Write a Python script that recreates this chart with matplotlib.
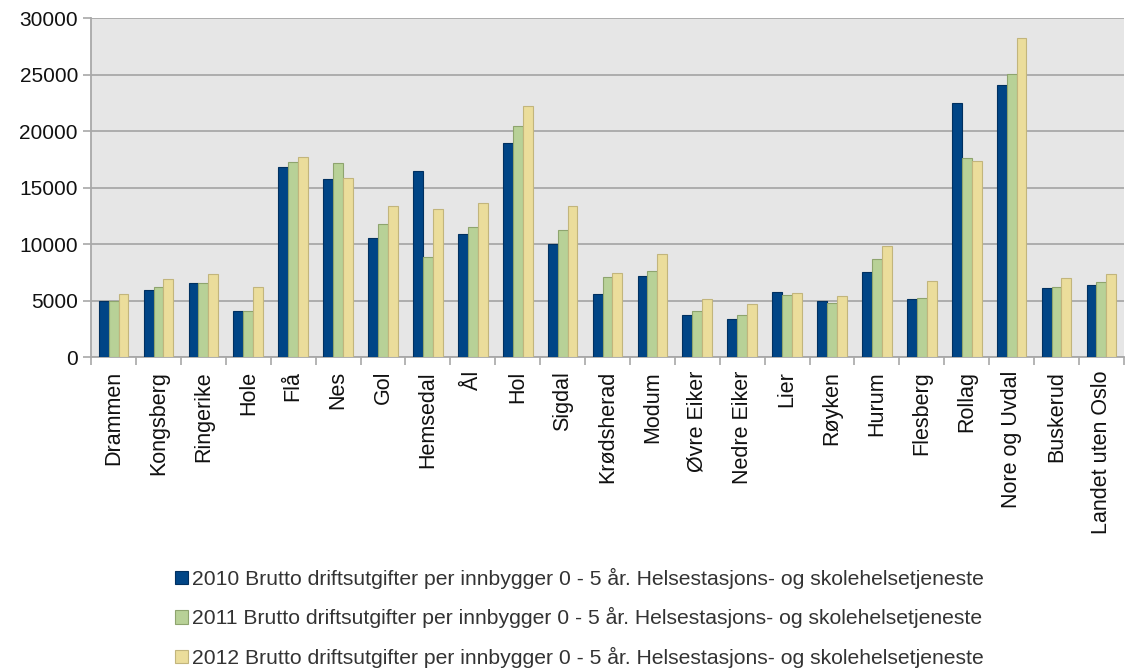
import numpy as np
import matplotlib.pyplot as plt

plt.rcParams['font.family'] = ['Liberation Sans', 'DejaVu Sans']

kommuner = ['Drammen', 'Kongsberg', 'Ringerike', 'Hole', 'Flå', 'Nes', 'Gol',
            'Hemsedal', 'Ål', 'Hol', 'Sigdal', 'Krødsherad', 'Modum',
            'Øvre Eiker', 'Nedre Eiker', 'Lier', 'Røyken', 'Hurum', 'Flesberg',
            'Rollag', 'Nore og Uvdal', 'Buskerud', 'Landet uten Oslo']

v2010 = [4950, 5970, 6550, 4110, 16820, 15760, 10530, 16470, 10880, 18910,
         9970, 5610, 7150, 3760, 3410, 5740, 4940, 7500, 5140, 22530, 24050,
         6090, 6350]
v2011 = [4990, 6200, 6550, 4110, 17260, 17140, 11760, 8880, 11520, 20410,
         11210, 7110, 7590, 4090, 3730, 5500, 4790, 8650, 5260, 17610, 25090,
         6230, 6670]
v2012 = [5590, 6880, 7350, 6200, 17740, 15880, 13410, 13090, 13640, 22260,
         13410, 7440, 9090, 5120, 4680, 5700, 5380, 9790, 6760, 17380, 28200,
         7020, 7380]

serie = '{} Brutto driftsutgifter per innbygger 0 - 5 år. Helsestasjons- og skolehelsetjeneste'
years = ['2010', '2011', '2012']
colors = ['#004586', '#b8d197', '#ebdd9b']
edges = ['#003060', '#8ea46e', '#c2b57c']
gridc = '#a8a8a8'

fig = plt.figure(figsize=(11.25, 6.7), dpi=100)
ax = fig.add_axes([0.081, 0.467, 0.918, 0.506])
ax.set_facecolor('#e6e6e6')

x = np.arange(len(kommuner))
w = 0.22
for i, vals in enumerate([v2010, v2011, v2012]):
    ax.bar(x + (i - 1) * w, vals, width=w, color=colors[i], edgecolor=edges[i],
           linewidth=0.8, label=serie.format(years[i]), zorder=3)

ax.set_xlim(-0.5, len(kommuner) - 0.5)
ax.set_ylim(0, 30000)
ax.set_yticks(range(0, 30001, 5000))
ax.yaxis.grid(True, color=gridc, linewidth=1.3, zorder=0)
ax.set_axisbelow(True)

ax.set_xticks(x)
ax.set_xticklabels(kommuner, rotation=90, fontsize=15.5, color='#111111')
ax.set_xticks(np.arange(-0.5, len(kommuner), 1), minor=True)
ax.tick_params(axis='x', which='major', length=0, pad=10)
ax.tick_params(axis='x', which='minor', length=6, color=gridc, width=1.2)
ax.tick_params(axis='y', length=6, color=gridc, width=1.2, labelsize=15,
               labelcolor='#111111')

for s in ['top', 'right']:
    ax.spines[s].set_visible(False)
for s in ['left', 'bottom']:
    ax.spines[s].set_color(gridc)
    ax.spines[s].set_linewidth(1.3)

fig.legend(loc='upper center', bbox_to_anchor=(0.515, 0.181), ncol=1,
           frameon=False, fontsize=15.2, handlelength=0.6, handleheight=0.6,
           handletextpad=0.2, labelspacing=0.88, labelcolor='#333333')

fig.savefig('out.png', dpi=100)
